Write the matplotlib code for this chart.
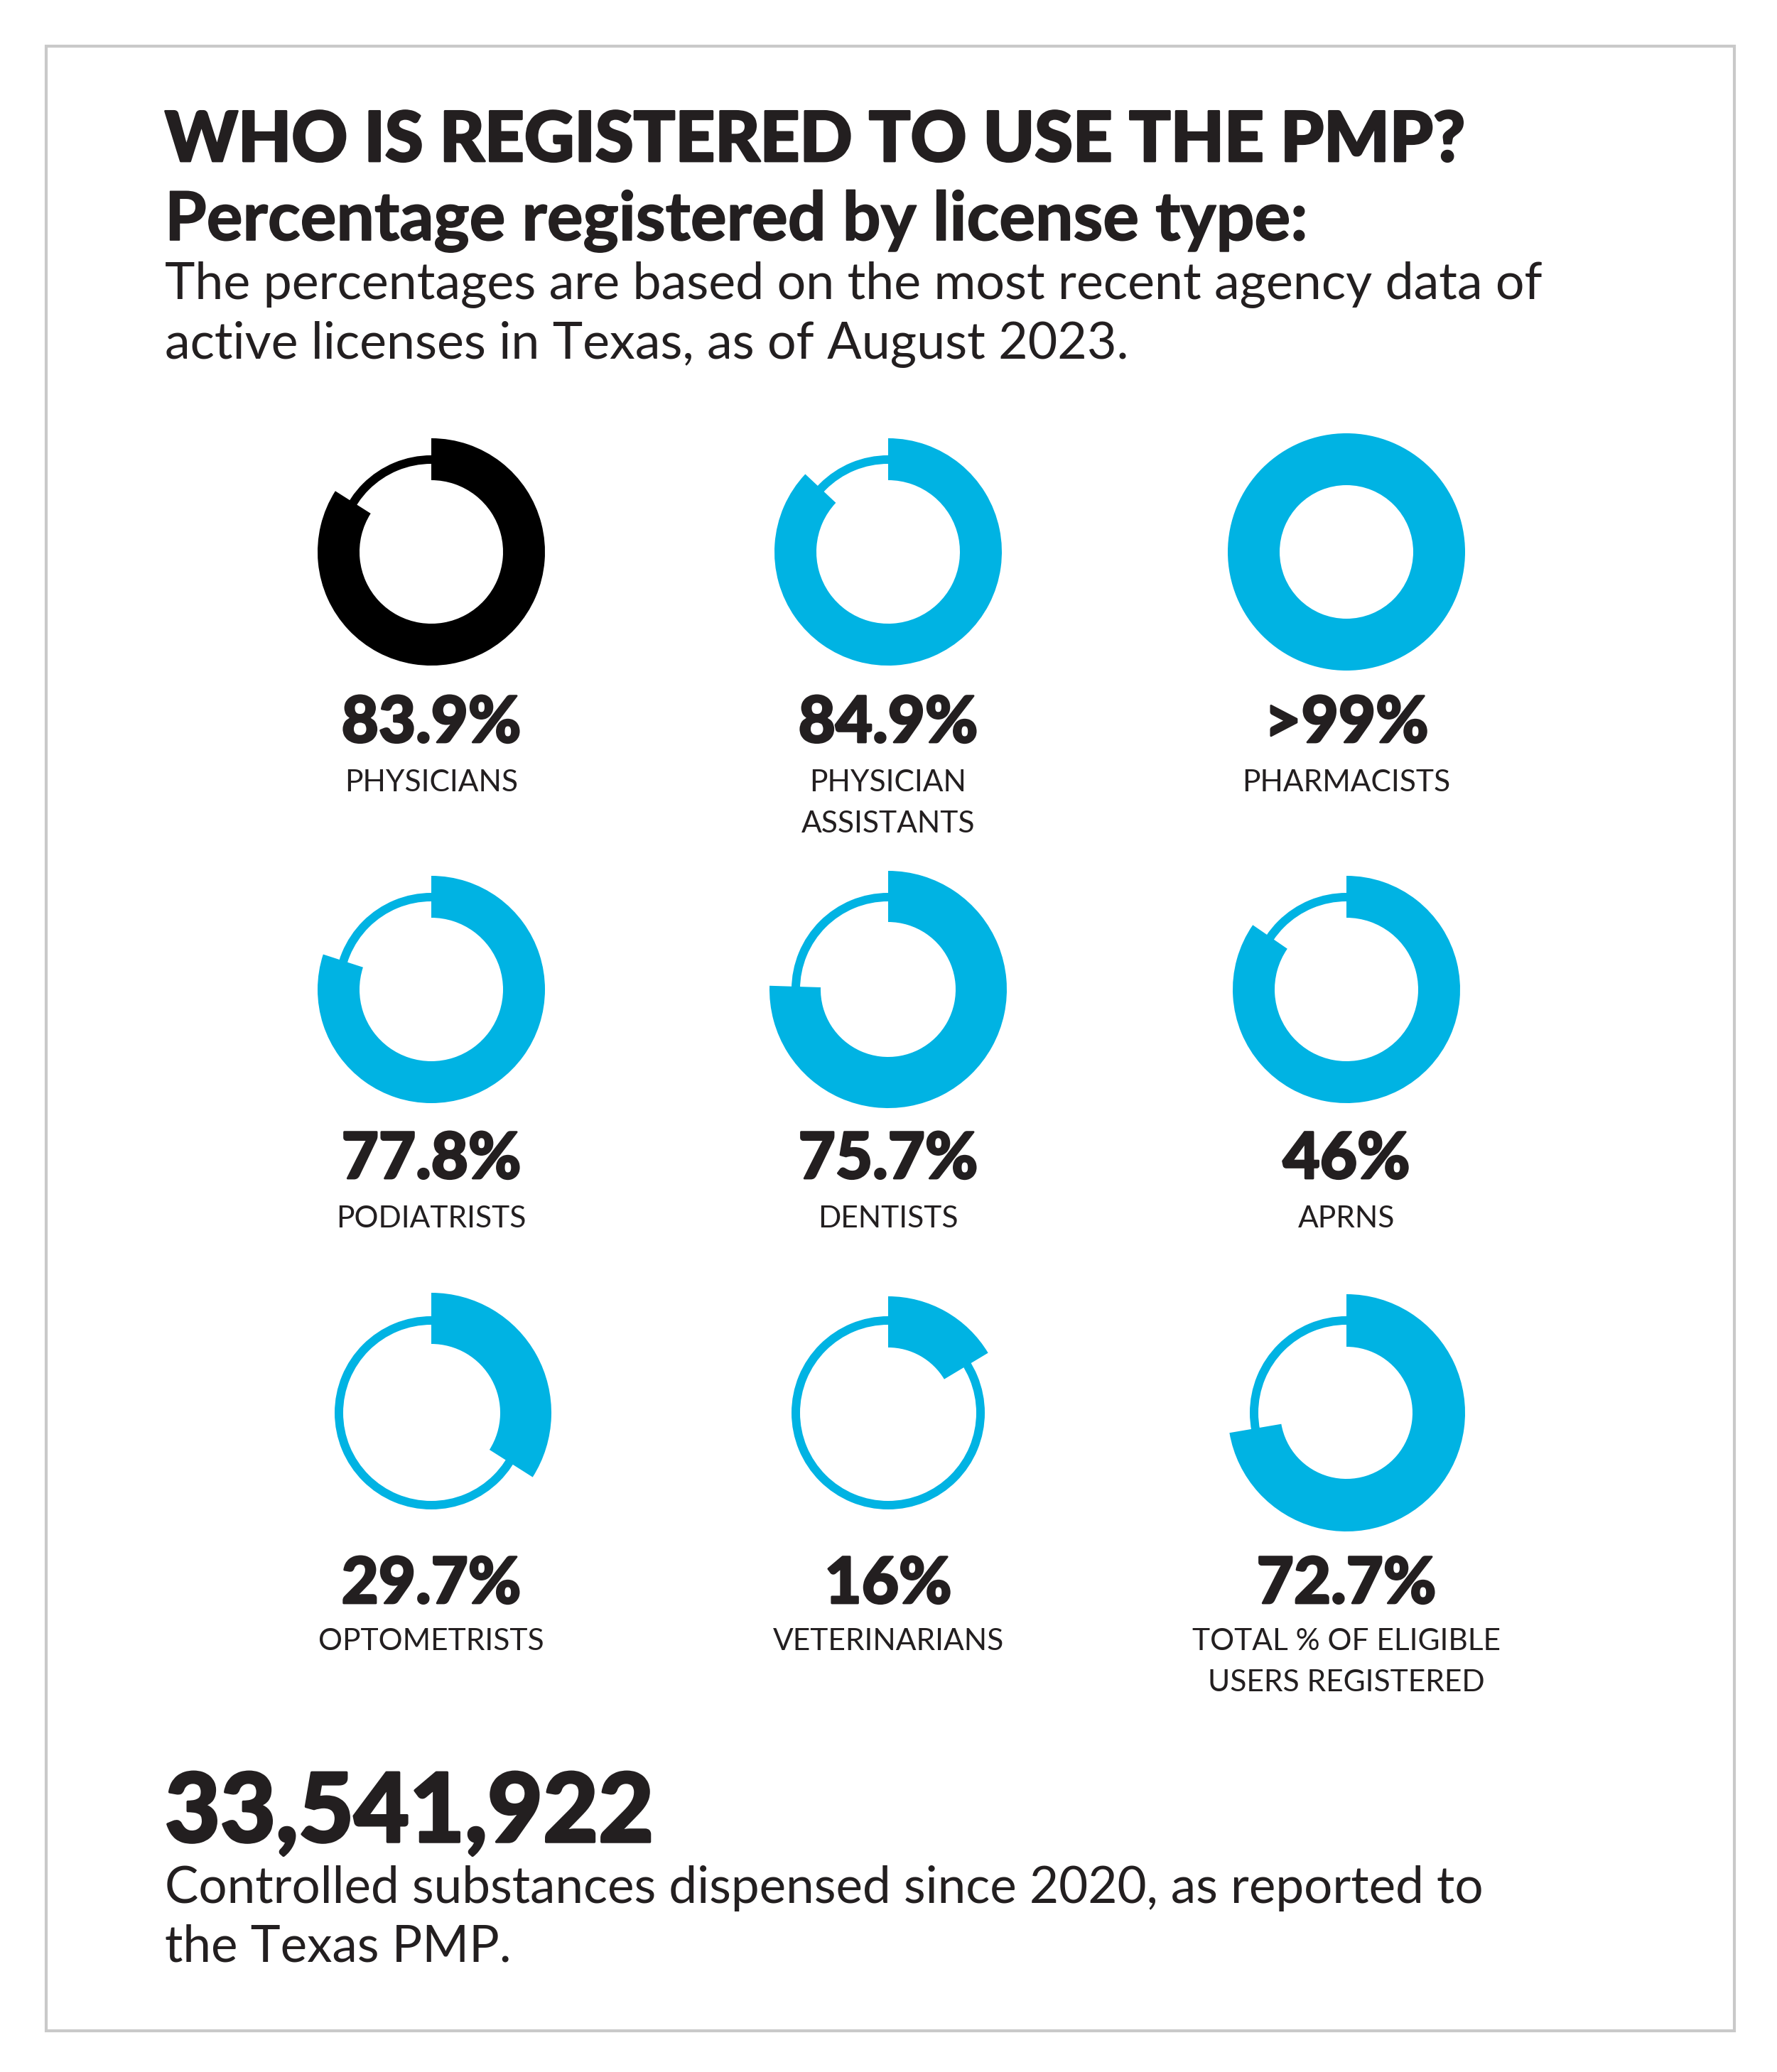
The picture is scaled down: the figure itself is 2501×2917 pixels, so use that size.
import matplotlib
matplotlib.use("Agg")
import matplotlib.pyplot as plt
from matplotlib.patches import Wedge, Rectangle
import matplotlib.patheffects as pe

# ---------------- data ----------------
categories = [["PHYSICIANS"], ["PHYSICIAN", "ASSISTANTS"], ["PHARMACISTS"],
              ["PODIATRISTS"], ["DENTISTS"], ["APRNS"],
              ["OPTOMETRISTS"], ["VETERINARIANS"], ["TOTAL % OF ELIGIBLE", "USERS REGISTERED"]]
pct_labels = ["83.9%", "84.9%", ">99%", "77.8%", "75.7%", "46%", "29.7%", "16%", "72.7%"]
# share of each ring that is filled, as drawn in the picture
arc_share = [84.0, 87.0, 100.0, 80.0, 75.5, 84.6, 34.0, 16.4, 72.3]

title = "WHO IS REGISTERED TO USE THE PMP?"
subtitle = "Percentage registered by license type:"
intro = ["The percentages are based on the most recent agency data of",
         "active licenses in Texas, as of August 2023."]
big_number = "33,541,922"
footer = ["Controlled substances dispensed since 2020, as reported to",
          "the Texas PMP."]

# ---------------- style / layout ----------------
W, H = 2501, 2917
CYAN = "#00B3E3"
INK = "#231F20"
ring_colors = ["#000000"] + [CYAN] * 8
col_x = [607, 1250, 1895]
row_y = [777, 1393, 1989]
r_out = [160, 160, 167, 160, 167, 160, 169, 164, 167]
r_in = [101, 101, 94, 101, 95, 101, 97, 92, 93]
thin_out, thin_in = 136, 124
pct_base = [1045, 1659, 2257]
cat_base = [1114, 1728, 2323]
cat_gap = 58

fig = plt.figure(figsize=(W / 100, H / 100), dpi=100)
ax = fig.add_axes([0, 0, 1, 1])
ax.set_xlim(0, W)
ax.set_ylim(H, 0)
ax.axis("off")
renderer = fig.canvas.get_renderer()

# border
ax.add_patch(Rectangle((65, 65), 2376, 2794, fill=False, edgecolor="#C9C9C9", linewidth=3))


def fit_size(txt, family, weight, target_w):
    t = ax.text(0, 0, txt, fontsize=100, family=family, fontweight=weight)
    w = t.get_window_extent(renderer).width
    t.remove()
    return 100 * target_w / w


def heavy(lw):
    return [pe.withStroke(linewidth=lw, foreground=INK)]


LEFT = 232
FAM = ["Lato", "DejaVu Sans"]

s = fit_size(title, FAM, 900, 1830)
ax.text(LEFT, 227, title, fontsize=s, family=FAM, fontweight=900, color=INK,
        va="baseline", ha="left", path_effects=heavy(2.0))
s = fit_size(subtitle, FAM, "bold", 1608)
ax.text(LEFT, 338, subtitle, fontsize=s, family=FAM, fontweight="bold", color=INK,
        va="baseline", ha="left", path_effects=heavy(1.2))
s = fit_size(intro[0], FAM, "normal", 1941)
for i, line in enumerate(intro):
    ax.text(LEFT, 421 + i * 84, line, fontsize=s, family=FAM, color=INK, va="baseline", ha="left")

s = fit_size(big_number, FAM, 900, 688)
ax.text(LEFT, 2593, big_number, fontsize=s, family=FAM, fontweight=900, color=INK,
        va="baseline", ha="left", path_effects=heavy(2.5))
s = fit_size(footer[0], FAM, "normal", 1855)
for i, line in enumerate(footer):
    ax.text(LEFT, 2679 + i * 83, line, fontsize=s, family=FAM, color=INK, va="baseline", ha="left")

pct_size = fit_size(pct_labels[0], FAM, 900, 253)
cat_size = fit_size(categories[0][0], FAM, "normal", 244)

for k in range(9):
    r, c = divmod(k, 3)
    cx, cy = col_x[c], row_y[r]
    col = ring_colors[k]
    share = arc_share[k]
    # thin full ring
    ax.add_patch(Wedge((cx, cy), thin_out, 0, 360, width=thin_out - thin_in,
                       facecolor=col, edgecolor="none"))
    # thick arc, clockwise from 12 o'clock (y axis inverted -> angles mirrored)
    ax.add_patch(Wedge((cx, cy), r_out[k], -90, -90 + 360 * share / 100,
                       width=r_out[k] - r_in[k], facecolor=col, edgecolor="none"))
    ax.text(cx, pct_base[r], pct_labels[k], fontsize=pct_size, family=FAM, fontweight=900,
            color=INK, ha="center", va="baseline", path_effects=heavy(2.0))
    for j, line in enumerate(categories[k]):
        ax.text(cx, cat_base[r] + j * cat_gap, line, fontsize=cat_size, family=FAM,
                color=INK, ha="center", va="baseline")

fig.savefig("out.png", dpi=100, facecolor="white")
